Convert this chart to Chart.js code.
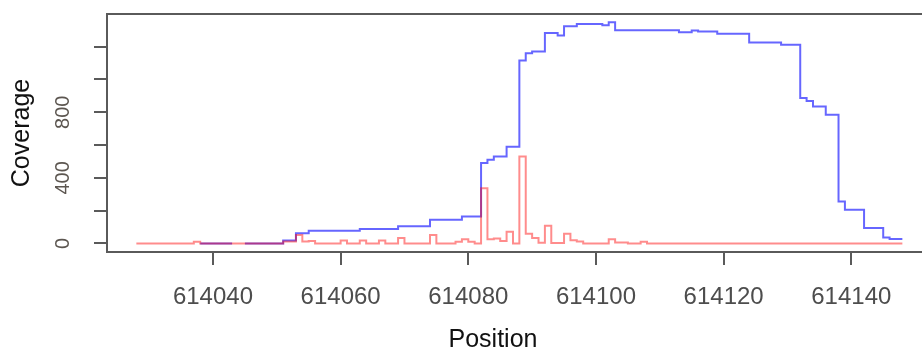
<!DOCTYPE html>
<html>
<head>
<meta charset="utf-8">
<script src="https://cdn.jsdelivr.net/npm/chart.js@4.4.1/dist/chart.umd.min.js"></script>
<style>
  html, body { margin: 0; padding: 0; background: #fff; overflow: hidden; }
  #wrap { position: relative; width: 940px; height: 351px; }
</style>
</head>
<body>
<div id="wrap"><canvas id="cov"></canvas></div>
<script>
// coverage per position, stored as change points of the step line
const bluePos = [614038, 614043, 614044, 614045, 614051, 614053, 614055, 614063, 614069, 614074,
  614079, 614082, 614083, 614084, 614086, 614088, 614089, 614090, 614092, 614094, 614095, 614097,
  614101, 614102, 614103, 614113, 614115, 614116, 614119, 614124, 614129, 614132, 614133, 614134,
  614136, 614138, 614139, 614142, 614145, 614146, 614148];
const blueCov = [0, 0, null, 0, 18, 63, 77, 88, 105, 145,
  165, 490, 510, 530, 590, 1115, 1160, 1170, 1283, 1268, 1325, 1338,
  1330, 1348, 1300, 1287, 1299, 1293, 1279, 1226, 1212, 887, 868, 835,
  785, 256, 205, 94, 37, 27, 27];

const redPos = [614028, 614037, 614038, 614051, 614053, 614054, 614055, 614056, 614060, 614061,
  614063, 614064, 614066, 614067, 614069, 614070, 614074, 614075, 614078, 614079, 614080, 614081,
  614082, 614083, 614084, 614085, 614086, 614087, 614088, 614089, 614090, 614091, 614092, 614093,
  614095, 614096, 614097, 614098, 614102, 614103, 614105, 614107, 614108, 614148];
const redCov = [0, 10, 0, 12, 52, 12, 15, 0, 18, 0,
  18, 0, 18, 0, 33, 0, 52, 0, 10, 25, 10, 0,
  336, 25, 30, 15, 72, 0, 530, 60, 33, 5, 108, 3,
  60, 20, 12, 0, 25, 6, 0, 10, 0, 0];

const xTicks = [614040, 614060, 614080, 614100, 614120, 614140];
const yTicks = [0, 200, 400, 600, 800, 1000, 1200];
const yLabels = ['0', '', '400', '', '800', '', ''];

const xTitle = 'Position';
const yTitle = 'Coverage';

const FONT = '"Liberation Sans", Arial, sans-serif';

const toPoints = (xs, ys) => xs.map((x, i) => ({ x: x, y: ys[i] }));

// R-style frame around the plot region plus the x label
const frame = {
  id: 'frame',
  afterDraw(chart) {
    const { ctx, chartArea: a } = chart;
    ctx.save();
    ctx.strokeStyle = '#5a5a5a';
    ctx.lineWidth = 2;
    ctx.strokeRect(a.left, a.top, a.right - a.left, a.bottom - a.top);
    ctx.font = '25px ' + FONT;
    ctx.fillStyle = '#111';
    ctx.textAlign = 'center';
    ctx.textBaseline = 'alphabetic';
    ctx.fillText(xTitle, a.left + 386, 347);
    ctx.restore();
  }
};

new Chart(document.getElementById('cov'), {
  type: 'line',
  data: {
    datasets: [
      {
        label: 'total',
        data: toPoints(bluePos, blueCov),
        borderColor: 'rgba(0, 0, 255, 0.6)',
        borderWidth: 2,
        stepped: 'before',
        pointRadius: 0,
        spanGaps: false,
        order: 1
      },
      {
        label: 'mismatch',
        data: toPoints(redPos, redCov),
        borderColor: 'rgba(255, 0, 0, 0.45)',
        borderWidth: 2,
        stepped: 'before',
        pointRadius: 0,
        order: 0
      }
    ]
  },
  options: {
    responsive: true,
    maintainAspectRatio: false,
    animation: false,
    devicePixelRatio: 1,
    layout: { padding: { top: 14, right: 7, left: 0, bottom: 0 } },
    plugins: {
      legend: { display: false },
      tooltip: { enabled: false }
    },
    scales: {
      x: {
        type: 'linear',
        min: 614023.4,
        max: 614152.8,
        afterFit: (s) => { s.height = 99; s.paddingLeft = 0; s.paddingRight = 0; },
        afterBuildTicks: (s) => { s.ticks = xTicks.map(v => ({ value: v })); },
        grid: { drawOnChartArea: false, drawTicks: true, tickLength: 13, color: '#5a5a5a', lineWidth: 2 },
        border: { display: false },
        ticks: {
          padding: 18,
          maxRotation: 0,
          autoSkip: false,
          color: '#4d4d4d',
          font: { family: FONT, size: 24 },
          callback: (v) => String(v)
        }
      },
      y: {
        min: -52,
        max: 1399,
        afterFit: (s) => { s.width = 107; s.paddingTop = 0; s.paddingBottom = 0; },
        afterBuildTicks: (s) => { s.ticks = yTicks.map(v => ({ value: v })); },
        grid: { drawOnChartArea: false, drawTicks: true, tickLength: 13, color: '#5a5a5a', lineWidth: 2 },
        border: { display: false },
        ticks: {
          padding: 14,
          minRotation: 90,
          maxRotation: 90,
          crossAlign: 'center',
          autoSkip: false,
          color: '#5c5650',
          font: { family: FONT, size: 20 },
          callback: (v) => yLabels[yTicks.indexOf(v)]
        },
        title: {
          display: true,
          text: yTitle,
          color: '#111',
          font: { family: FONT, size: 25, lineHeight: 1.2 },
          padding: { top: 7, bottom: 0 }
        }
      }
    }
  },
  plugins: [frame]
});
</script>
</body>
</html>
